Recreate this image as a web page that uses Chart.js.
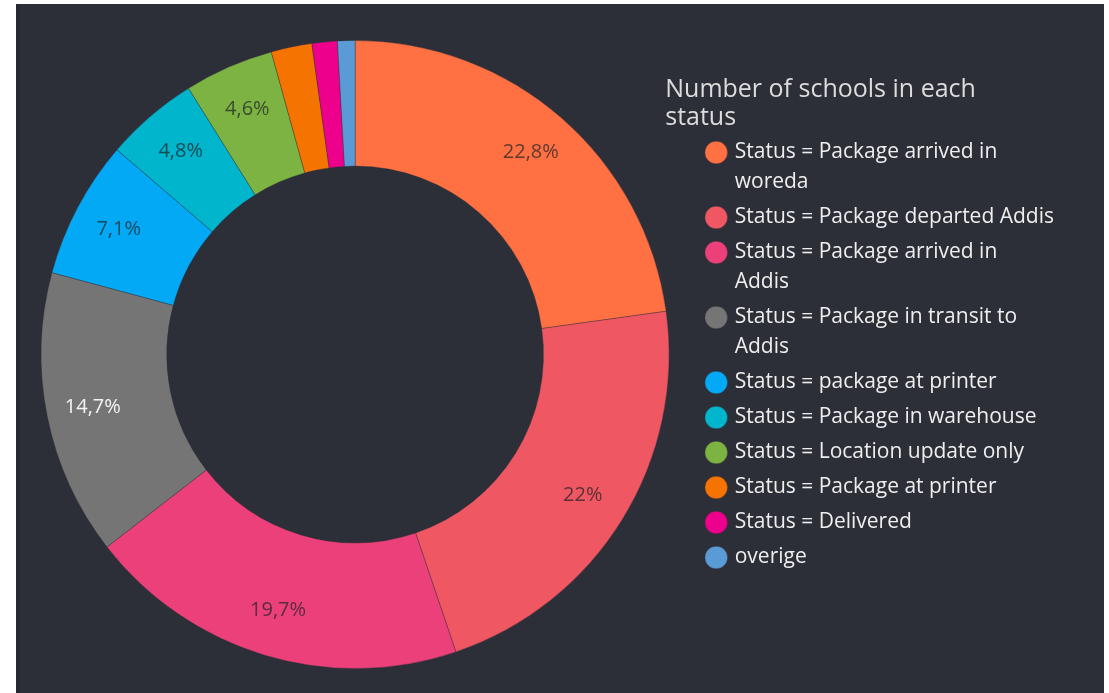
<!DOCTYPE html>
<html>
<head>
<meta charset="utf-8">
<script src="https://cdn.jsdelivr.net/npm/chart.js@4/dist/chart.umd.min.js"></script>
<style>
    html, body { margin: 0; padding: 0; background: #ffffff; overflow: hidden; }
    #panel { position: absolute; left: 16px; top: 4px; width: 1088px; height: 700px; background: #2d2f38; border-left: 4px solid #272930; box-sizing: border-box; }
    #wrap { position: absolute; left: 0; top: 0; width: 1109px; height: 693px; }
</style>
</head>
<body>
<div id="panel"></div>
<div id="wrap"><canvas id="myChart01"></canvas></div>
<script>
// datos del grafico
var etiquetas = [
    ['Status = Package arrived in', 'woreda'],
    ['Status = Package departed Addis'],
    ['Status = Package arrived in', 'Addis'],
    ['Status = Package in transit to', 'Addis'],
    ['Status = package at printer'],
    ['Status = Package in warehouse'],
    ['Status = Location update only'],
    ['Status = Package at printer'],
    ['Status = Delivered'],
    ['overige']
];
var porcentajes = [22.8, 22, 19.7, 14.7, 7.1, 4.8, 4.6, 2.1, 1.3, 0.9];
var colores = ['#ff7043', '#ef5763', '#ec407a', '#757575', '#03a9f4', '#00b5cc', '#7cb342', '#f57300', '#ec008c', '#5b9bd5'];
var tituloLeyenda = ['Number of schools in each', 'status'];

// etiquetas dentro de los segmentos
var etiquetasArco = {
    id: 'etiquetasArco',
    afterDatasetsDraw: function (chart) {
        var ctx = chart.ctx;
        var meta = chart.getDatasetMeta(0);
        ctx.save();
        ctx.font = '20px "Open Sans"';
        ctx.textAlign = 'center';
        ctx.textBaseline = 'middle';
        meta.data.forEach(function (arc, i) {
            var v = porcentajes[i];
            if (v < 4) return;
            var p = arc.getProps(['x', 'y', 'startAngle', 'endAngle', 'innerRadius', 'outerRadius'], true);
            var ang = (p.startAngle + p.endAngle) / 2;
            var r = p.innerRadius + (p.outerRadius - p.innerRadius) * 0.63;
            ctx.fillStyle = colores[i] == '#757575' ? 'rgba(255,255,255,0.92)' : 'rgba(35,35,40,0.72)';
            ctx.fillText(String(v).replace('.', ',') + '%', p.x + Math.cos(ang) * r, p.y + Math.sin(ang) * r);
        });
        ctx.restore();
    }
};

// titulo de la leyenda
var tituloPlugin = {
    id: 'tituloPlugin',
    afterDraw: function (chart) {
        var ctx = chart.ctx;
        var lg = chart.legend;
        ctx.save();
        ctx.font = '25px "Open Sans"';
        ctx.fillStyle = '#dcdcdc';
        ctx.textAlign = 'left';
        ctx.textBaseline = 'middle';
        tituloLeyenda.forEach(function (t, i) {
            ctx.fillText(t, lg.left - 38, lg.top + 50 + i * 28);
        });
        ctx.restore();
    }
};

var ctx = document.getElementById("myChart01");

var myChart1 = new Chart(ctx, {
    type: 'doughnut',
    data: {
        labels: etiquetas,
        datasets: [{
            data: porcentajes,
            backgroundColor: colores,
            borderColor: 'rgba(45,47,56,0.35)',
            borderWidth: 1,
            hoverOffset: 0
        }]
    },
    options: {
        responsive: true,
        maintainAspectRatio: false,
        animation: false,
        cutout: '60%',
        layout: {
            padding: { left: 7, top: 40, bottom: 24, right: 45 }
        },
        plugins: {
            tooltip: { enabled: false },
            legend: {
                position: 'right',
                align: 'start',
                title: {
                    display: true,
                    text: '',
                    font: { size: 22, lineHeight: 28 / 22, family: 'Open Sans' },
                    padding: { top: 30, bottom: 39 }
                },
                labels: {
                    color: '#eeeeee',
                    usePointStyle: true,
                    pointStyle: 'circle',
                    boxWidth: 16,
                    boxHeight: 16,
                    padding: 5,
                    font: { size: 21, lineHeight: 30 / 21, family: 'Open Sans' }
                }
            }
        }
    },
    plugins: [etiquetasArco, tituloPlugin]
});
</script>
</body>
</html>
